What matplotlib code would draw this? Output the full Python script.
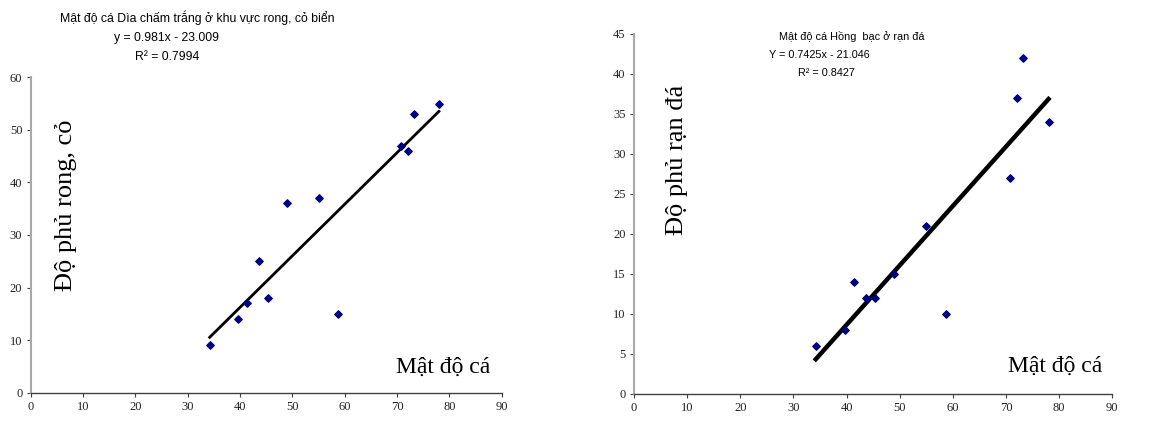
import numpy as np
import matplotlib
matplotlib.use("Agg")
import matplotlib.pyplot as plt

# fish density (shared x values)
mat_do_ca = [34.2, 39.7, 41.4, 43.6, 45.4, 49.0, 55.0, 58.7, 70.7, 72.1, 73.2, 78.0]
# left: seaweed / seagrass cover
phu_rong_co = [9, 14, 17, 25, 18, 36, 37, 15, 47, 46, 53, 55]
# right: reef cover
phu_ran_da = [6, 8, 14, 12, 12, 15, 21, 10, 27, 37, 42, 34]

# trend line coefficients shown on the chart
left_slope, left_icpt = 0.981, -23.009
right_slope, right_icpt = 0.7425, -21.046

left_title = "Mật độ cá Dìa chấm trắng ở khu vực rong, cỏ biển"
left_eq = "y = 0.981x - 23.009"
left_r2 = "R² = 0.7994"
right_title = "Mật độ cá Hồng  bạc ở rạn đá"
right_eq = "Y = 0.7425x - 21.046"
right_r2 = "R² = 0.8427"

W, H = 1173, 422
fig = plt.figure(figsize=(W / 100, H / 100), dpi=100)


def px(x0, y0, x1, y1):
    # pixel box -> figure fraction [left, bottom, width, height]
    return [x0 / W, 1 - y1 / H, (x1 - x0) / W, (y1 - y0) / H]


def style(ax, xlim, ylim, yticks):
    ax.set_xlim(*xlim)
    ax.set_ylim(*ylim)
    ax.set_xticks(np.arange(0, 91, 10))
    ax.set_yticks(yticks)
    ax.spines["top"].set_visible(False)
    ax.spines["right"].set_visible(False)
    ax.spines["left"].set_color("#a8a8a8")
    ax.spines["left"].set_linewidth(1.5)
    ax.spines["bottom"].set_color("#404040")
    ax.spines["bottom"].set_linewidth(1.0)
    ax.tick_params(direction="out", length=3, width=0.8, colors="#404040",
                   labelsize=9, labelcolor="#222222", pad=3)
    for lab in ax.get_xticklabels() + ax.get_yticklabels():
        lab.set_family("Liberation Serif")


serif = "Liberation Serif"
sans = "Liberation Sans"

# left chart
ax1 = fig.add_axes(px(30.7, 77.3, 501.7, 392.7))
style(ax1, (0, 90), (0, 60), np.arange(0, 61, 10))
ax1.scatter(mat_do_ca, phu_rong_co, marker="D", s=14, color="#000080", zorder=3)
xs = np.array([min(mat_do_ca), max(mat_do_ca)])
ax1.plot(xs, left_slope * xs + left_icpt, color="black", lw=2.0, zorder=2)
fig.text(66 / W, 1 - 205 / H, "Độ phủ rong, cỏ", rotation=90, ha="center",
         va="center", family=serif, fontsize=19)
fig.text(443 / W, 1 - 367 / H, "Mật độ cá", ha="center", va="center",
         family=serif, fontsize=17)
fig.text(197 / W, 1 - 18 / H, left_title, ha="center", va="center",
         family=sans, fontsize=8.8)
fig.text(167 / W, 1 - 38 / H, left_eq, ha="center", va="center",
         family=sans, fontsize=8.8)
fig.text(167 / W, 1 - 57 / H, left_r2, ha="center", va="center",
         family=sans, fontsize=8.8)

# right chart
ax2 = fig.add_axes(px(634, 34, 1112.3, 394))
style(ax2, (0, 90), (0, 45), np.arange(0, 46, 5))
ax2.scatter(mat_do_ca, phu_ran_da, marker="D", s=14, color="#000080", zorder=3)
ax2.plot(xs, right_slope * xs + right_icpt, color="black", lw=3.2, zorder=2)
fig.text(677 / W, 1 - 160 / H, "Độ phủ rạn đá", rotation=90, ha="center",
         va="center", family=serif, fontsize=19)
fig.text(1055 / W, 1 - 366 / H, "Mật độ cá", ha="center", va="center",
         family=serif, fontsize=17)
fig.text(852 / W, 1 - 37 / H, right_title, ha="center", va="center",
         family=sans, fontsize=7.8)
fig.text(819 / W, 1 - 55 / H, right_eq, ha="center", va="center",
         family=sans, fontsize=7.8)
fig.text(826 / W, 1 - 73 / H, right_r2, ha="center", va="center",
         family=sans, fontsize=7.8)

fig.savefig("out.png", dpi=100)
